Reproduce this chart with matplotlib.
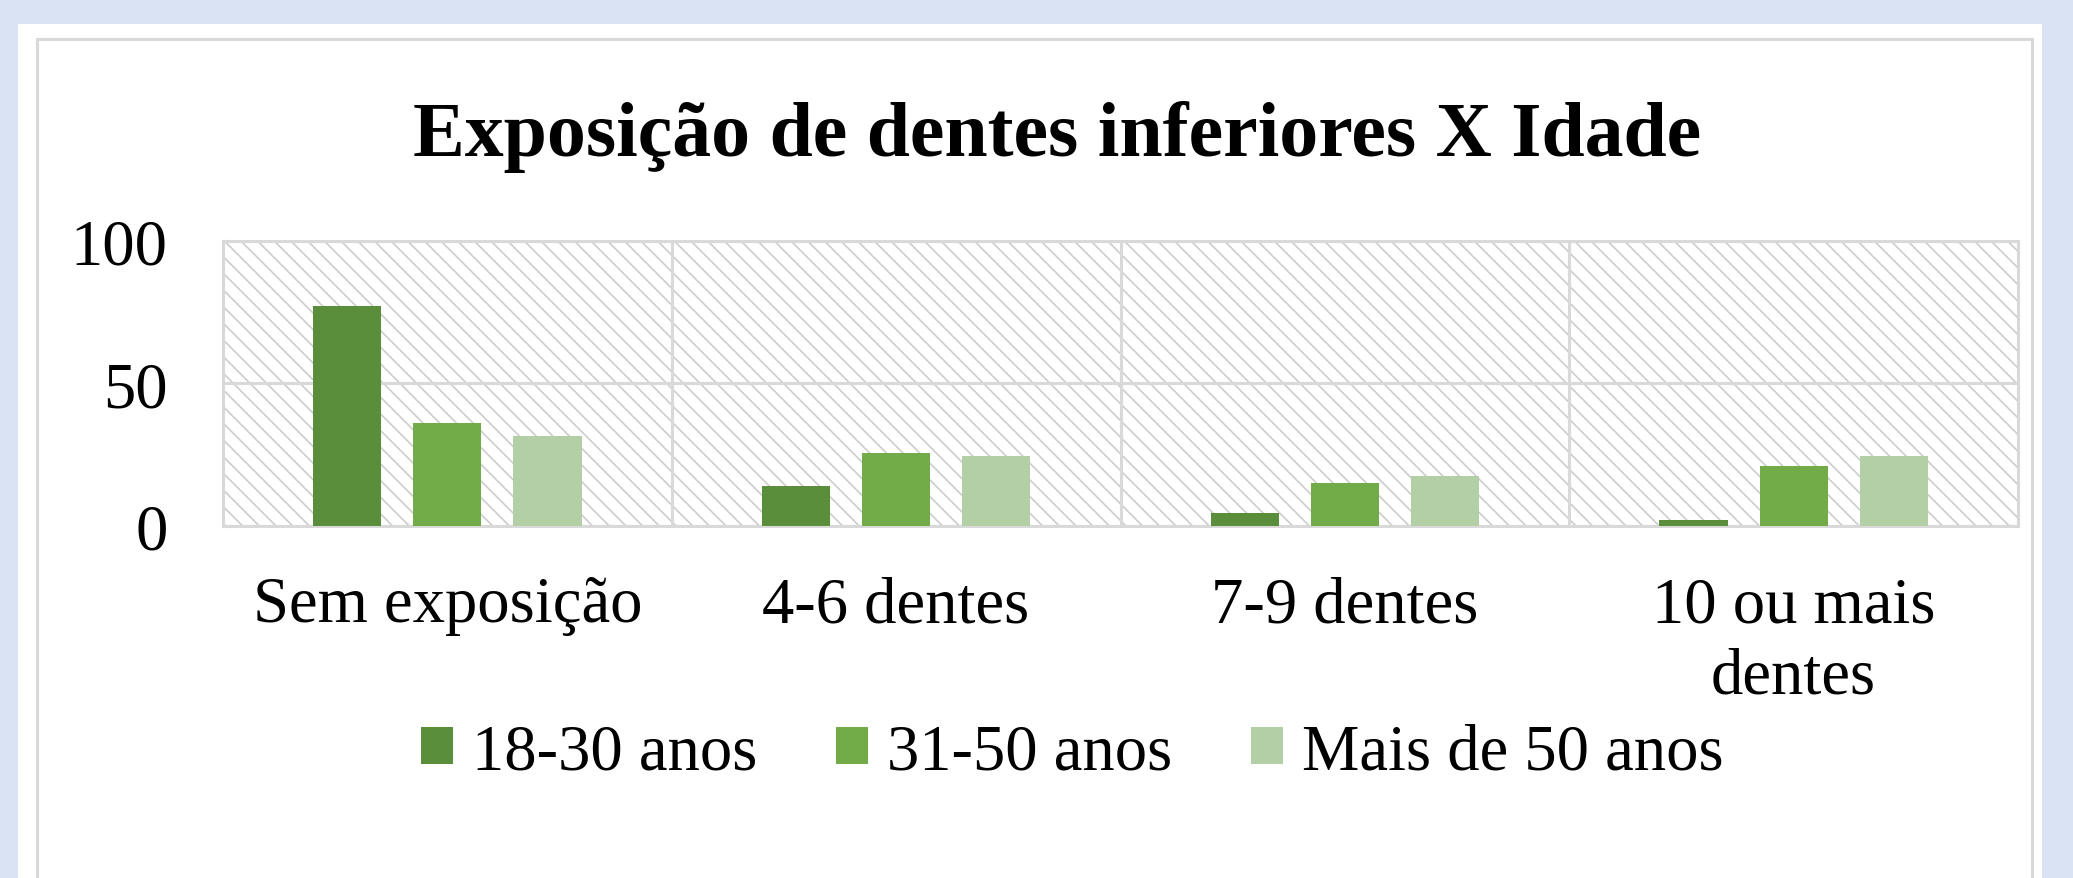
"""Grouped bar chart: exposição de dentes inferiores por faixa etária."""

import matplotlib

matplotlib.use("Agg")
import matplotlib.pyplot as plt
import numpy as np
from matplotlib.patches import Rectangle

categories = ["Sem exposição", "4-6 dentes", "7-9 dentes", "10 ou mais\ndentes"]
series_names = ["18-30 anos", "31-50 anos", "Mais de 50 anos"]
values_18_30 = [77.2, 14.0, 4.6, 2.1]
values_31_50 = [36.2, 25.6, 15.1, 21.0]
values_50_plus = [31.5, 24.4, 17.5, 24.5]
y_ticks = [0, 50, 100]

colors = ["#5b8e3b", "#71ac48", "#b3cfa5"]
grid_color = "#d9d9d9"
serif = ["Liberation Serif", "DejaVu Serif"]

plt.rcParams["hatch.linewidth"] = 1.2

W, H = 2073, 879
fig = plt.figure(figsize=(W / 100, H / 100), dpi=100, facecolor="#dae3f3")

# white card and its grey frame (bottom edge is cut off in the reference)
fig.patches.append(Rectangle((18 / W, 0), (2042 - 18) / W, (H - 25) / H,
                             transform=fig.transFigure, facecolor="white",
                             edgecolor="none", zorder=-2))
fig.patches.append(Rectangle((36.5 / W, -20 / H), (2032 - 36.5) / W, (H - 39.5 + 20) / H,
                             transform=fig.transFigure, fill=False,
                             edgecolor=grid_color, linewidth=2.2, zorder=-1))

left, right, top, bottom = 223, 2018, 241.7, 527
ax = fig.add_axes([left / W, 1 - bottom / H, (right - left) / W, (bottom - top) / H])
ax.set_zorder(1)
ax.set_facecolor("white")
ax.add_patch(Rectangle((0, 0), 1, 1, transform=ax.transAxes, facecolor="white",
                       edgecolor="#cdcdcd", hatch="\\\\", linewidth=0, zorder=0))

x = np.arange(len(categories))
offsets = [-0.223, 0.0, 0.223]
bar_width = 0.152
all_values = [values_18_30, values_31_50, values_50_plus]
for offset, vals, color, name in zip(offsets, all_values, colors, series_names):
	ax.bar(x + offset, vals, width=bar_width, color=color, label=name, zorder=3)

ax.set_xlim(-0.5, len(categories) - 0.5)
ax.set_ylim(0, 100)
ax.set_yticks(y_ticks)
ax.set_yticklabels([str(v) for v in y_ticks], fontsize=46.5, family=serif)
ax.set_xticks(x)
ax.set_xticklabels(categories, fontsize=46.5, family=serif)
for label in ax.get_xticklabels():
	label.set_linespacing(1.26)
ax.set_xticks(x[:-1] + 0.5, minor=True)
ax.tick_params(axis="both", which="both", length=0)
ax.tick_params(axis="y", pad=40)
ax.tick_params(axis="x", pad=36)
ax.grid(axis="y", which="major", color=grid_color, linewidth=2.2, zorder=1)
ax.grid(axis="x", which="minor", color=grid_color, linewidth=2.2, zorder=1)
ax.set_axisbelow(True)
for spine in ax.spines.values():
	spine.set_color(grid_color)
	spine.set_linewidth(2.2)

fig.text(1057 / W, 1 - 156 / H, "Exposição de dentes inferiores X Idade",
         ha="center", va="baseline", fontsize=56, fontweight="bold", family=serif)

fig.legend(loc="center", bbox_to_anchor=(1072 / W, 1 - 754 / H), ncol=3,
           frameon=False, prop={"family": serif, "size": 46.5},
           handlelength=0.5, handleheight=0.5, handletextpad=0.29,
           columnspacing=1.22, borderpad=0, borderaxespad=0)

fig.savefig("out.png", dpi=100, facecolor=fig.get_facecolor())
